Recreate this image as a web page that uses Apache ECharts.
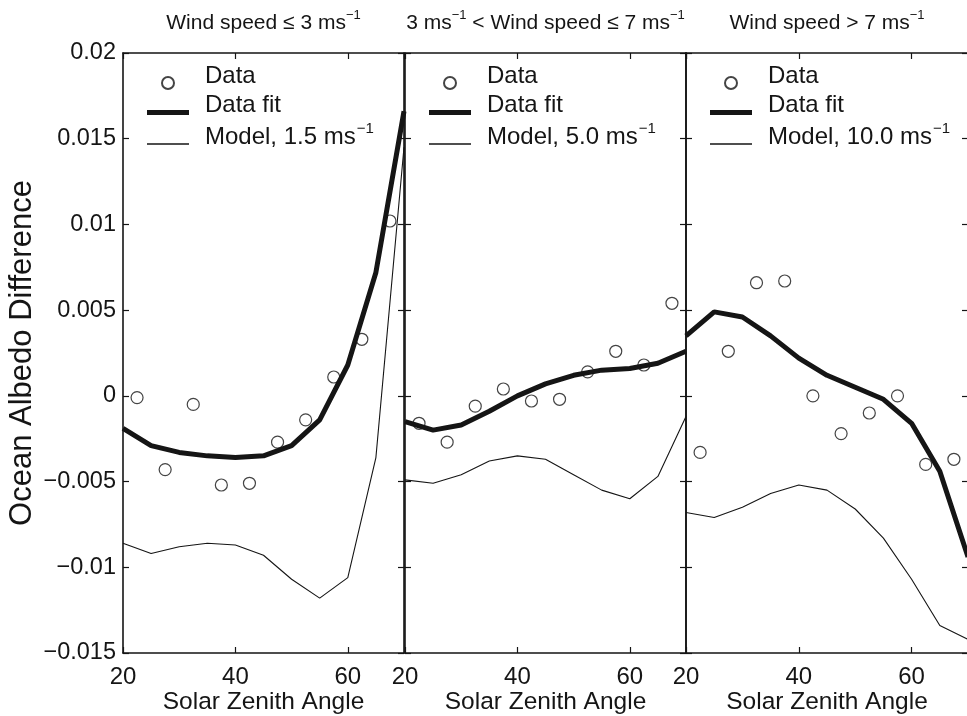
<!DOCTYPE html>
<html>
<head>
<meta charset="utf-8">
<script src="https://cdn.jsdelivr.net/npm/echarts@6/dist/echarts.min.js"></script>
<style>
html,body{margin:0;padding:0;background:#fff;}
#chart{width:967px;height:716px;}
</style>
</head>
<body>
<div id="chart"></div>
<script>
// ---- data ----
var xFit = [20, 25, 30, 35, 40, 45, 50, 55, 60, 65, 70];
var xData = [22.5, 27.5, 32.5, 37.5, 42.5, 47.5, 52.5, 57.5, 62.5, 67.5];

var panelTitles = [
  '{n|Wind speed \u2264 3 ms}{sup|\u22121}',
  '{n|3 ms}{sup|\u22121}{n| < Wind speed \u2264 7 ms}{sup|\u22121}',
  '{n|Wind speed > 7 ms}{sup|\u22121}'
];
var modelNames = ['Model, 1.5 ms\u22121', 'Model, 5.0 ms\u22121', 'Model, 10.0 ms\u22121'];

var p1Data  = [-0.0001, -0.0043, -0.0005, -0.0052, -0.0051, -0.0027, -0.0014, 0.0011, 0.0033, 0.0102];
var p1Fit   = [-0.0019, -0.0029, -0.0033, -0.0035, -0.0036, -0.0035, -0.0029, -0.0014, 0.0018, 0.0072, 0.0166];
var p1Model = [-0.0086, -0.0092, -0.0088, -0.0086, -0.0087, -0.0093, -0.0107, -0.0118, -0.0106, -0.0036, 0.0145];

var p2Data  = [-0.0016, -0.0027, -0.0006, 0.0004, -0.0003, -0.0002, 0.0014, 0.0026, 0.0018, 0.0054];
var p2Fit   = [-0.0015, -0.0020, -0.0017, -0.0009, 0.0000, 0.0007, 0.0012, 0.0015, 0.0016, 0.0019, 0.0026];
var p2Model = [-0.0049, -0.0051, -0.0046, -0.0038, -0.0035, -0.0037, -0.0046, -0.0055, -0.0060, -0.0047, -0.0012];

var p3Data  = [-0.0033, 0.0026, 0.0066, 0.0067, 0.0000, -0.0022, -0.0010, 0.0000, -0.0040, -0.0037];
var p3Fit   = [0.0035, 0.0049, 0.0046, 0.0035, 0.0022, 0.0012, 0.0005, -0.0002, -0.0016, -0.0044, -0.0094];
var p3Model = [-0.0068, -0.0071, -0.0065, -0.0057, -0.0052, -0.0055, -0.0066, -0.0083, -0.0107, -0.0134, -0.0142];

var yMin = -0.015, yMax = 0.02, yStep = 0.005;
var xMin = 20, xMax = 70, xStep = 20;

var panels = [
  {data: p1Data, fit: p1Fit, model: p1Model},
  {data: p2Data, fit: p2Fit, model: p2Model},
  {data: p3Data, fit: p3Fit, model: p3Model}
];

// ---- layout ----
var FONT = 'Liberation Sans, Arial, Helvetica, sans-serif';
var INK = '#151515';
var gridLefts = [123, 405, 686];
var gridW = [281, 281, 282];
var gridTop = 53, gridH = 600;

function pair(xs, ys){ return xs.map(function(x,i){ return [x, ys[i]]; }); }
function fmtY(v){
  var s = String(parseFloat(Number(v).toFixed(4)));
  return s.charAt(0) === '-' ? '\u2212' + s.slice(1) : s;
}

var grids = [], xAxes = [], yAxes = [], series = [], legends = [], titles = [];
var axisLineStyle = {color: INK, width: 1.6};
var tickStyle = {show: true, inside: true, length: 6, lineStyle: {color: INK, width: 1.2}};

panels.forEach(function(p, i){
  grids.push({left: gridLefts[i], top: gridTop, width: gridW[i], height: gridH,
              containLabel: false, outerBoundsMode: 'none'});
  xAxes.push({
    type: 'value', gridIndex: i, position: 'bottom', min: xMin, max: xMax, interval: xStep,
    axisLine: {show: true, onZero: false, lineStyle: axisLineStyle},
    axisTick: tickStyle, splitLine: {show: false},
    axisLabel: {show: true, fontFamily: FONT, fontSize: 24, color: INK, margin: 12, showMaxLabel: false},
    name: 'Solar Zenith Angle', nameLocation: 'middle', nameGap: 37, nameMoveOverlap: false,
    nameTextStyle: {fontFamily: FONT, fontSize: 24.5, color: INK}
  });
  xAxes.push({
    type: 'value', gridIndex: i, position: 'top', min: xMin, max: xMax, interval: xStep,
    axisLine: {show: true, onZero: false, lineStyle: axisLineStyle},
    axisTick: tickStyle, splitLine: {show: false}, axisLabel: {show: false}
  });
  yAxes.push({
    type: 'value', gridIndex: i, position: 'left', min: yMin, max: yMax, interval: yStep,
    axisLine: {show: true, onZero: false, lineStyle: axisLineStyle},
    axisTick: tickStyle, splitLine: {show: false},
    axisLabel: {show: i === 0, fontFamily: FONT, fontSize: 23.5, color: INK, margin: 7, formatter: fmtY},
    name: i === 0 ? 'Ocean Albedo Difference' : '', nameLocation: 'middle', nameGap: 85,
    nameTextStyle: {fontFamily: FONT, fontSize: 31, color: INK}
  });
  yAxes.push({
    type: 'value', gridIndex: i, position: 'right', min: yMin, max: yMax, interval: yStep,
    axisLine: {show: true, onZero: false, lineStyle: axisLineStyle},
    axisTick: tickStyle, splitLine: {show: false}, axisLabel: {show: false}
  });

  var xi = i * 2, yi = i * 2;
  series.push({
    name: 'Data', type: 'scatter', xAxisIndex: xi, yAxisIndex: yi,
    data: pair(xData, p.data), symbol: 'circle', symbolSize: 12,
    itemStyle: {color: 'rgba(255,255,255,0)', borderColor: INK, borderWidth: 1.2},
    z: 2, silent: true
  });
  series.push({
    name: modelNames[i], type: 'line', xAxisIndex: xi, yAxisIndex: yi,
    data: pair(xFit, p.model), symbol: 'none', showSymbol: false,
    lineStyle: {color: INK, width: 1.1}, itemStyle: {color: INK},
    z: 3, silent: true
  });
  series.push({
    name: 'Data fit', type: 'line', xAxisIndex: xi, yAxisIndex: yi,
    data: pair(xFit, p.fit), symbol: 'none', showSymbol: false,
    lineStyle: {color: INK, width: 5}, itemStyle: {color: INK},
    z: 4, silent: true
  });

  legends.push({
    orient: 'vertical', left: gridLefts[i] + 24, top: 64, padding: 0,
    itemWidth: 42, itemHeight: 12, itemGap: 3.5,
    selectedMode: false,
    data: [
      {name: 'Data', icon: 'circle'},
      {name: 'Data fit', icon: 'path://M0,0H42V5H0Z', itemStyle: {color: INK, borderWidth: 0}},
      {name: modelNames[i], icon: 'path://M0,0H42V1.6H0Z', itemStyle: {color: INK, borderWidth: 0}}
    ],
    formatter: function(name){
      if (name.indexOf('ms\u22121') >= 0) return '{n|' + name.replace('ms\u22121', 'ms') + '}{sup|\u22121}';
      return '{n|' + name + '}';
    },
    textStyle: {
      fontFamily: FONT, fontSize: 24, color: INK, padding: [0, 0, 14, 11],
      rich: {
        n: {fontFamily: FONT, fontSize: 24, color: INK, lineHeight: 32, verticalAlign: 'middle'},
        sup: {fontFamily: FONT, fontSize: 15, color: INK, lineHeight: 15, verticalAlign: 'top', padding: [0,0,0,1]}
      }
    }
  });

  titles.push({
    text: panelTitles[i], left: gridLefts[i] + gridW[i] / 2, top: 9, textAlign: 'center', padding: 0,
    textStyle: {
      fontFamily: FONT, fontSize: 21, fontWeight: 'normal', color: INK,
      rich: {
        n: {fontFamily: FONT, fontSize: 21, color: INK, lineHeight: 28, verticalAlign: 'middle'},
        sup: {fontFamily: FONT, fontSize: 13, color: INK, lineHeight: 13, verticalAlign: 'top'}
      }
    }
  });
});

var chart = echarts.init(document.getElementById('chart'), null, {renderer: 'canvas'});
chart.setOption({
  animation: false,
  backgroundColor: '#fff',
  title: titles,
  grid: grids,
  xAxis: xAxes,
  yAxis: yAxes,
  legend: legends,
  series: series
});
</script>
</body>
</html>
